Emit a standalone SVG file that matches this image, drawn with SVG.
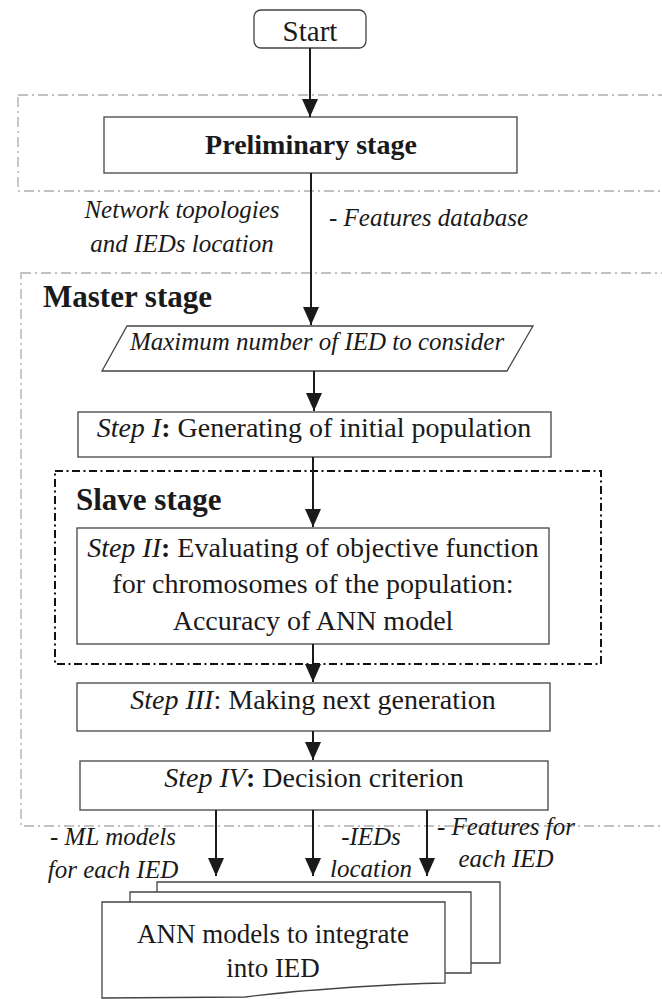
<svg xmlns="http://www.w3.org/2000/svg" width="662" height="999" viewBox="0 0 662 999">
<style>
.box{fill:#fff;stroke:#444;stroke-width:1.3}
.region{fill:none;stroke:#c2c2c2;stroke-width:1.8;stroke-dasharray:10 4 2 4}
.slave{fill:none;stroke:#111;stroke-width:2;stroke-dasharray:8 3.5 2 3.5}
.conn{stroke:#1a1a1a;stroke-width:2;fill:none}
text{fill:#1a1a1a;font-family:"Liberation Serif","Times New Roman",serif}
.lbl{font-size:25px;font-style:italic}
.step{font-size:28px}
</style>
<defs>
<marker id="ah" markerWidth="18" markerHeight="16" refX="18" refY="8" orient="auto" markerUnits="userSpaceOnUse" viewBox="0 0 18 16">
<path d="M0,0 L18,8 L0,16 Z" fill="#1a1a1a"/>
</marker>
</defs>
<g id="regions">
<rect class="region" x="18" y="95" width="670" height="96"/>
<rect class="region" x="21" y="273" width="670" height="553"/>
</g>
<text id="master-label" x="43" y="307" font-size="31" font-weight="bold">Master stage</text>
<g id="slave-stage">
<rect class="slave" x="55" y="471" width="546" height="193"/>
<text x="76" y="510" font-size="31" font-weight="bold">Slave stage</text>
</g>
<g id="start">
<rect class="box" x="254" y="10" width="112" height="38" rx="7"/>
<text x="310" y="41" font-size="29" text-anchor="middle">Start</text>
</g>
<g id="preliminary">
<rect class="box" x="104" y="117" width="413" height="56"/>
<text x="311" y="154" font-size="28" font-weight="bold" text-anchor="middle">Preliminary stage</text>
</g>
<g id="input">
<polygon class="box" points="127,326 533,326 507,371 102,371"/>
<text x="317" y="350" font-size="25" font-style="italic" text-anchor="middle">Maximum number of IED to consider</text>
</g>
<g id="step1">
<rect class="box" x="78" y="412" width="473" height="45"/>
<text class="step" x="314" y="437" text-anchor="middle"><tspan font-style="italic">Step I</tspan><tspan font-weight="bold">:</tspan> Generating of initial population</text>
</g>
<g id="step2">
<rect class="box" x="77" y="528" width="472" height="116"/>
<text class="step" x="313" y="557" text-anchor="middle"><tspan font-style="italic">Step II</tspan><tspan font-weight="bold">:</tspan> Evaluating of objective function</text>
<text class="step" x="313" y="593" text-anchor="middle">for chromosomes of the population:</text>
<text class="step" x="313" y="630" text-anchor="middle">Accuracy of ANN model</text>
</g>
<g id="step3">
<rect class="box" x="77" y="683" width="473" height="48"/>
<text class="step" x="313" y="709" text-anchor="middle"><tspan font-style="italic">Step III</tspan>: Making next generation</text>
</g>
<g id="step4">
<rect class="box" x="80" y="761" width="468" height="49"/>
<text class="step" x="314" y="787" text-anchor="middle"><tspan font-style="italic">Step IV</tspan><tspan font-weight="bold">:</tspan> Decision criterion</text>
</g>
<g id="output">
<path class="box" d="M157,892 V882 H500 V963 H471"/>
<path class="box" d="M130,902 V892 H471 V973 H445"/>
<path class="box" d="M102,902 H445 V983 C390,984 300,990 245,997 L102,998 Z"/>
<text x="273" y="943" font-size="27" text-anchor="middle">ANN models to integrate</text>
<text x="273" y="977" font-size="27" text-anchor="middle">into IED</text>
</g>
<g id="connectors">
<line class="conn" x1="310" y1="48" x2="310" y2="117" marker-end="url(#ah)"/>
<line class="conn" x1="311" y1="173" x2="311" y2="325" marker-end="url(#ah)"/>
<line class="conn" x1="314" y1="371" x2="314" y2="411" marker-end="url(#ah)"/>
<line class="conn" x1="313" y1="457" x2="313" y2="527" marker-end="url(#ah)"/>
<line class="conn" x1="313" y1="644" x2="313" y2="682" marker-end="url(#ah)"/>
<line class="conn" x1="313" y1="731" x2="313" y2="760" marker-end="url(#ah)"/>
<line class="conn" x1="216" y1="810" x2="216" y2="876" marker-end="url(#ah)"/>
<line class="conn" x1="313" y1="810" x2="313" y2="876" marker-end="url(#ah)"/>
<line class="conn" x1="427" y1="810" x2="427" y2="876" marker-end="url(#ah)"/>
</g>
<g id="labels">
<text class="lbl" x="182" y="218" text-anchor="middle">Network topologies</text>
<text class="lbl" x="182" y="252" text-anchor="middle">and IEDs location</text>
<text class="lbl" x="329" y="226">- Features database</text>
<text class="lbl" x="113" y="845" text-anchor="middle">- ML models</text>
<text class="lbl" x="113" y="878" text-anchor="middle">for each IED</text>
<text class="lbl" x="371" y="845" text-anchor="middle">-IEDs</text>
<text class="lbl" x="371" y="877" text-anchor="middle">location</text>
<text class="lbl" x="506" y="835" text-anchor="middle">- Features for</text>
<text class="lbl" x="506" y="867" text-anchor="middle">each IED</text>
</g>
</svg>
